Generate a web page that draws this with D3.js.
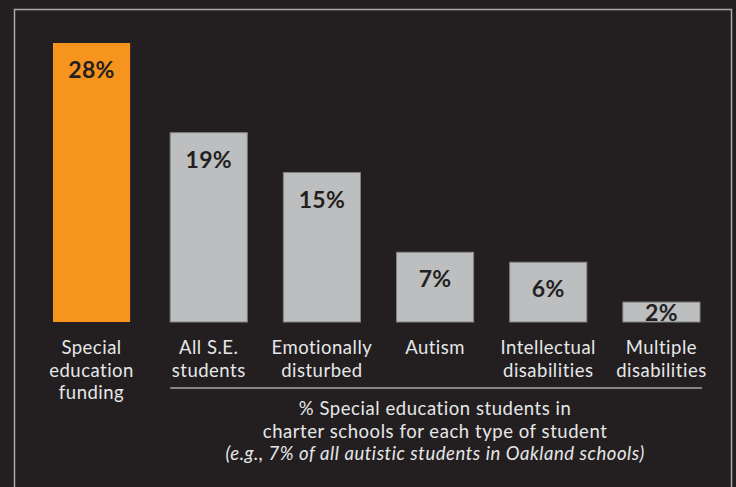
<!DOCTYPE html>
<html>
<head>
<meta charset="utf-8">
<script src="https://cdn.jsdelivr.net/npm/d3@7"></script>
<style>
  html, body { margin: 0; padding: 0; background: #231f20; }
  svg { display: block; }
</style>
</head>
<body>
<svg id="chart"></svg>
<script>
// values
const categories = [
  ["Special", "education", "funding"],
  ["All S.E.", "students"],
  ["Emotionally", "disturbed"],
  ["Autism"],
  ["Intellectual", "disabilities"],
  ["Multiple", "disabilities"]
];
const values = [28, 19, 15, 7, 6, 2];
const valueLabels = ["28%", "19%", "15%", "7%", "6%", "2%"];
const noteLines = [
  "% Special education students in",
  "charter schools for each type of student",
  "(e.g., 7% of all autistic students in Oakland schools)"
];

const width = 736, height = 487;
const font = "Lato, 'Open Sans', sans-serif";
const groupGap = 4; // funding bar sits a bit apart from the student groups

const svg = d3.select("#chart")
  .attr("width", width)
  .attr("height", height);

// frame
svg.append("rect")
  .attr("x", 14.5).attr("y", 9.5)
  .attr("width", 717).attr("height", 490)
  .attr("fill", "none")
  .attr("stroke", "#a7a9ac")
  .attr("stroke-width", 1.5);

const x = d3.scaleBand()
  .domain(d3.range(values.length))
  .range([57, 700])
  .paddingInner(0.3186)
  .paddingOuter(0);

const bx = i => x(i) - (i === 0 ? groupGap : 0);

const y = d3.scaleLinear()
  .domain([0, 28])
  .range([322, 43]);

const bars = svg.selectAll(".bar")
  .data(values)
  .enter()
  .append("g")
  .attr("class", "bar");

bars.append("rect")
  .attr("x", (d, i) => bx(i))
  .attr("y", d => y(d))
  .attr("width", x.bandwidth())
  .attr("height", d => y(0) - y(d))
  .attr("fill", (d, i) => i === 0 ? "#f7941d" : "#bcbec0")
  .attr("stroke", (d, i) => i === 0 ? "none" : "#808285")
  .attr("stroke-width", 1);

bars.append("text")
  .attr("x", (d, i) => bx(i) + x.bandwidth() / 2)
  .attr("y", d => Math.min(y(d) + 35, y(0) - 1))
  .attr("text-anchor", "middle")
  .attr("font-family", font)
  .attr("font-weight", "bold")
  .attr("font-size", 23)
  .attr("letter-spacing", 0.3)
  .attr("fill", "#231f20")
  .text((d, i) => valueLabels[i]);

// category labels
const cat = svg.selectAll(".cat")
  .data(categories)
  .enter()
  .append("text")
  .attr("class", "cat")
  .attr("text-anchor", "middle")
  .attr("font-family", font)
  .attr("font-size", 18.5)
  .attr("letter-spacing", 0.5)
  .attr("fill", "#e6e7e8");

cat.selectAll("tspan")
  .data((d, i) => d.map(t => ({ t, i })))
  .enter()
  .append("tspan")
  .attr("x", d => bx(d.i) + x.bandwidth() / 2)
  .attr("y", (d, j) => 354 + j * 22.5)
  .text(d => d.t);

// divider under the student groups
svg.append("line")
  .attr("x1", x(1)).attr("x2", x(5) + x.bandwidth() + 2)
  .attr("y1", 388).attr("y2", 388)
  .attr("stroke", "#a7a9ac")
  .attr("stroke-width", 1.5);

const cx = (x(1) + x(5) + x.bandwidth()) / 2;
svg.selectAll(".note")
  .data(noteLines)
  .enter()
  .append("text")
  .attr("class", "note")
  .attr("x", cx)
  .attr("y", (d, i) => 415 + i * 22.5)
  .attr("text-anchor", "middle")
  .attr("font-family", font)
  .attr("font-size", 18.5)
  .attr("letter-spacing", 0.55)
  .attr("font-style", (d, i) => i === 2 ? "italic" : "normal")
  .attr("fill", "#e6e7e8")
  .text(d => d);
</script>
</body>
</html>
